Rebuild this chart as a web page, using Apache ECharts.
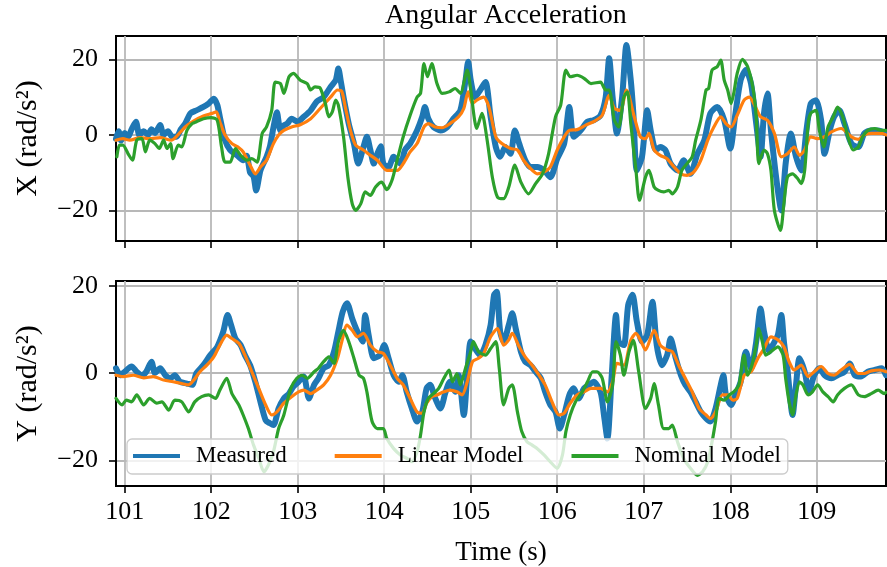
<!DOCTYPE html>
<html>
<head>
<meta charset="utf-8">
<script src="https://cdn.jsdelivr.net/npm/echarts@6/dist/echarts.min.js"></script>
<style>
  html, body { margin: 0; padding: 0; background: #ffffff; }
  #chart { width: 887px; height: 567px; }
</style>
</head>
<body>
<div id="chart"></div>
<script>
// Angular acceleration about X and Y: measured signal vs. linear and nominal models.
// Each series is a list of [time (s), value (rad/s^2)] pairs.

const xTicks = [101, 102, 103, 104, 105, 106, 107, 108, 109];
const yTicks = [-20, 0, 20];
const seriesNames = ['Measured', 'Linear Model', 'Nominal Model'];

const xMeasured = [
  [100.90,-1],[100.93,1],[100.96,-1.5],[101.00,0.5],[101.04,-0.5],[101.08,1.5],[101.13,3.5],[101.17,0],
  [101.22,1],[101.27,0],[101.31,1.5],[101.35,0.5],[101.41,2.6],[101.45,0],[101.50,1],[101.55,-0.5],
  [101.60,-0.5],[101.65,1.5],[101.70,3],[101.76,5.7],[101.83,6.5],[101.91,7.4],[101.97,8.3],[102.03,9.6],
  [102.07,8],[102.10,4.8],[102.16,-1.4],[102.22,-4],[102.30,-5.4],[102.37,-6.7],[102.41,-5.5],[102.45,-10],
  [102.49,-11],[102.52,-14.7],[102.57,-9.4],[102.64,-5.8],[102.68,-3],[102.72,2],[102.76,6],[102.80,1.2],
  [102.84,2.5],[102.88,3],[102.93,4.3],[103.00,3.5],[103.07,4.8],[103.15,6.5],[103.22,8.8],[103.30,10],
  [103.38,12.7],[103.44,14.5],[103.47,17.6],[103.50,14],[103.53,10],[103.59,3],[103.65,-2.3],[103.70,-7.6],
  [103.76,-3.2],[103.80,-0.5],[103.84,-4],[103.88,-7.6],[103.92,-5],[103.96,-3],[103.99,-7.6],[104.05,-8.5],
  [104.11,-5.8],[104.19,-7.6],[104.24,-4],[104.30,-2.3],[104.38,1.2],[104.44,4.8],[104.47,7.4],[104.51,4.3],
  [104.57,2.1],[104.65,1.2],[104.73,2.1],[104.80,4.3],[104.88,6.5],[104.94,14.5],[104.97,19.4],[105.00,14.5],
  [105.05,10],[105.11,11.9],[105.17,14],[105.23,4.8],[105.29,-3.2],[105.34,-5.8],[105.40,-3.2],[105.46,-5],
  [105.51,1.2],[105.56,-2.3],[105.63,-6.7],[105.69,-8.5],[105.77,-8.5],[105.85,-9.4],[105.92,-11.2],[106.00,-6.3],
  [106.08,-2.3],[106.14,7.4],[106.19,-0.5],[106.27,1.2],[106.35,3.5],[106.42,3.9],[106.50,5.2],[106.56,10],
  [106.60,20.3],[106.64,10],[106.69,0.4],[106.75,10],[106.80,23.8],[106.85,14.5],[106.88,5.7],[106.92,-9.4],
  [106.98,-5.8],[107.04,6.5],[107.08,1.2],[107.14,-4],[107.19,-3.2],[107.25,-4],[107.31,-7.6],[107.39,-9.4],
  [107.46,-6.7],[107.54,-10.3],[107.62,-5],[107.70,-1.4],[107.77,5.7],[107.85,7.4],[107.93,3.9],[108.00,-3.6],
  [108.06,5.7],[108.12,14.5],[108.18,17.2],[108.24,13.6],[108.30,3],[108.35,-5.8],[108.39,5.7],[108.43,11],
  [108.47,1.2],[108.53,-11.2],[108.59,-20],[108.64,-7.6],[108.70,0.4],[108.76,-5.8],[108.82,-9.4],[108.88,1.2],
  [108.93,8.3],[108.99,9.2],[109.05,3.9],[109.09,-5],[109.15,1.2],[109.20,4.8],[109.26,6.5],[109.32,3],
  [109.40,-2.3],[109.48,-3.2],[109.55,0.4],[109.63,1.2],[109.71,1.2],[109.80,0.4]
];

const xLinear = [
  [100.90,-1.4],[100.98,-1],[101.06,-1.4],[101.18,-0.7],[101.29,-1],[101.41,-0.7],[101.54,-1.4],[101.60,-0.4],
  [101.70,2.1],[101.80,3.7],[101.91,5],[102.01,5.7],[102.06,6.1],[102.10,3.5],[102.16,0],[102.24,-2.3],
  [102.32,-3.4],[102.37,-4.5],[102.45,-8],[102.51,-10.3],[102.57,-8.5],[102.64,-6.7],[102.72,-2.3],[102.78,0],
  [102.84,1.2],[102.93,2.1],[103.03,2.7],[103.15,4.3],[103.26,7],[103.38,10],[103.46,11.9],[103.51,11.5],
  [103.55,7.4],[103.61,1.2],[103.67,-2.7],[103.76,-4],[103.84,-5.4],[103.92,-6.7],[104.03,-9.4],[104.15,-9.4],
  [104.22,-7.6],[104.30,-4.5],[104.38,-2.3],[104.46,2.1],[104.51,3],[104.59,2.1],[104.67,1.9],[104.76,3],
  [104.86,4.8],[104.92,7],[104.97,11.4],[105.02,8.3],[105.07,9.2],[105.15,10],[105.21,7.4],[105.29,-0.5],
  [105.36,-2.3],[105.46,-3.6],[105.54,-4],[105.61,-6.7],[105.69,-8.9],[105.77,-10.3],[105.85,-9.8],[105.92,-8.5],
  [106.00,-4],[106.08,-0.5],[106.14,1.2],[106.23,1.4],[106.33,2.6],[106.42,3.5],[106.52,5.2],[106.60,10.5],
  [106.66,7],[106.73,6.5],[106.80,11.9],[106.89,4.8],[106.96,-0.5],[107.02,-1],[107.06,0.4],[107.12,-4],
  [107.19,-5.4],[107.27,-6.3],[107.35,-8.5],[107.43,-10.3],[107.50,-10.7],[107.58,-9.8],[107.66,-6.7],[107.74,-1.4],
  [107.81,2.1],[107.89,4.8],[107.95,3],[108.01,2.1],[108.08,5.2],[108.16,9.2],[108.22,10],[108.28,7.9],
  [108.35,4.8],[108.43,3.9],[108.51,0.4],[108.59,-5.8],[108.66,-5],[108.74,-3.2],[108.80,-5.4],[108.86,-4],
  [108.93,-0.5],[109.01,-1],[109.09,-0.5],[109.17,0.8],[109.28,1.7],[109.40,-0.5],[109.48,-1.2],[109.55,0],
  [109.63,0.4],[109.75,0.4],[109.80,0]
];

const xNominal = [
  [100.91,-5.8],[100.94,-2.7],[100.98,-2.7],[101.04,-5],[101.09,-6.7],[101.14,-1.4],[101.20,-1],[101.24,-4.5],
  [101.29,-1.4],[101.35,-2.3],[101.40,-3.6],[101.45,-1.4],[101.49,-3.6],[101.53,-2.3],[101.56,-6.3],[101.62,-2.7],
  [101.66,-3.2],[101.72,1.2],[101.78,3],[101.83,3.5],[101.91,4.3],[102.00,4.6],[102.07,3.9],[102.12,-3.2],
  [102.16,-7.2],[102.22,-7.2],[102.28,-3.6],[102.34,-5.4],[102.41,-6.7],[102.47,-6.3],[102.53,-7.2],[102.59,0.4],
  [102.64,2.1],[102.70,6.5],[102.74,14],[102.80,13.6],[102.84,11],[102.90,15.4],[102.95,16.3],[103.03,14.5],
  [103.11,13.6],[103.15,11.9],[103.20,12.7],[103.26,12.4],[103.32,8.3],[103.36,4.8],[103.40,6.1],[103.44,9.2],
  [103.47,7.9],[103.53,-0.5],[103.58,-11.2],[103.63,-18.2],[103.67,-20],[103.73,-18.2],[103.78,-15.1],[103.84,-16],
  [103.90,-13.8],[103.97,-12.5],[104.03,-14.5],[104.09,-12],[104.15,-6.7],[104.22,-0.5],[104.30,5.2],[104.38,10],
  [104.42,11],[104.46,18.9],[104.50,15.4],[104.55,18.9],[104.61,13.6],[104.67,11],[104.75,11.4],[104.82,12.3],
  [104.88,11],[104.96,17.2],[105.00,11.9],[105.07,1.7],[105.13,5.7],[105.19,-1.4],[105.25,-11.2],[105.31,-16.5],
  [105.38,-16.9],[105.44,-13.8],[105.51,-8],[105.58,-12.5],[105.67,-15.6],[105.75,-12.9],[105.83,-10.3],[105.90,-5],
  [105.98,4.8],[106.04,7.9],[106.10,17.2],[106.15,15.4],[106.23,15.8],[106.31,15],[106.39,13.6],[106.50,14],
  [106.56,11.9],[106.60,11.9],[106.66,3.9],[106.71,2.1],[106.77,10],[106.81,11.4],[106.85,3],[106.91,-9.4],
  [106.95,-17.3],[107.02,-11.2],[107.06,-9.4],[107.12,-13.8],[107.17,-14.7],[107.23,-15.1],[107.29,-14.7],[107.33,-15.6],
  [107.39,-13.8],[107.44,-9.4],[107.50,-7.6],[107.56,-5.8],[107.60,-1.4],[107.66,3.9],[107.72,11.9],[107.75,12.3],
  [107.79,17.2],[107.85,18.1],[107.89,19.8],[107.93,14.5],[107.97,11.9],[108.01,8.3],[108.04,11],[108.08,16.3],
  [108.14,20],[108.20,18.1],[108.26,12.7],[108.30,4.8],[108.33,-7.6],[108.39,-4],[108.43,-5],[108.47,-9.4],
  [108.51,-20],[108.58,-25.3],[108.62,-18.2],[108.66,-11.2],[108.72,-10.3],[108.78,-11.6],[108.82,-12.9],[108.86,-9.4],
  [108.90,3],[108.93,5.7],[108.99,6.5],[109.03,1.2],[109.08,-3.2],[109.13,2.1],[109.19,4.8],[109.24,7.4],
  [109.30,4.8],[109.36,-0.5],[109.42,-4],[109.48,-3.2],[109.53,-0.5],[109.59,1.2],[109.67,1.7],[109.75,1.2],
  [109.80,1.2]
];

const yMeasured = [
  [100.90,1.1],[100.95,-0.5],[101.00,0.3],[101.08,1.5],[101.14,0.3],[101.20,-0.5],[101.25,0.3],[101.31,2.6],
  [101.35,0],[101.41,1.1],[101.47,-0.5],[101.53,-1.2],[101.58,-0.5],[101.64,-2],[101.72,-2.4],[101.78,-2.7],
  [101.83,0],[101.91,1.8],[101.99,4.1],[102.07,6],[102.14,9.5],[102.19,13.3],[102.23,11],[102.28,7.9],
  [102.34,6.4],[102.39,4.1],[102.45,1.8],[102.51,-2],[102.57,-6.6],[102.63,-10.8],[102.68,-11.5],[102.72,-11.9],
  [102.78,-8.1],[102.84,-5.8],[102.90,-4.7],[102.95,-3.1],[103.01,-2],[103.07,-0.8],[103.13,-5.8],[103.19,-2.7],
  [103.24,-1.2],[103.30,1.1],[103.36,1.8],[103.42,4.9],[103.47,9.5],[103.52,14],[103.57,16],[103.63,12.5],
  [103.69,9.5],[103.75,7.2],[103.78,13.3],[103.82,8.7],[103.88,3.4],[103.95,4.1],[104.00,6.4],[104.05,3.4],
  [104.11,-0.5],[104.17,-2],[104.21,-0.5],[104.26,-4.3],[104.32,-8.1],[104.38,-11.1],[104.44,-8.9],[104.49,-3.5],
  [104.53,-2.7],[104.59,-5.8],[104.65,-8.1],[104.71,-4.3],[104.76,-2],[104.82,-4.3],[104.86,-0.5],[104.92,-9.6],
  [104.96,-0.5],[105.00,7.2],[105.05,5.6],[105.11,4.1],[105.17,6.4],[105.23,11],[105.27,17.9],[105.30,18.6],
  [105.34,9.5],[105.38,7.2],[105.44,11],[105.48,13.7],[105.52,10.2],[105.58,4.9],[105.63,2.6],[105.69,1.8],
  [105.75,0.3],[105.81,-1.2],[105.86,-4.3],[105.92,-7.3],[105.98,-8.9],[106.03,-12.7],[106.08,-9.6],[106.14,-5],
  [106.19,-3.5],[106.25,-5.8],[106.31,-3.5],[106.37,-2.7],[106.42,-2],[106.50,-4.3],[106.54,-9.6],[106.58,-15],
  [106.63,-0.5],[106.68,13.3],[106.71,7.2],[106.77,6.4],[106.82,15.6],[106.87,17.9],[106.92,11.8],[106.98,7.2],
  [107.04,8.7],[107.10,16.3],[107.15,6.4],[107.21,1.8],[107.27,4.1],[107.31,7.9],[107.37,3.4],[107.43,-0.5],
  [107.48,-2.7],[107.54,-4.3],[107.60,-6.6],[107.66,-8.9],[107.72,-10.4],[107.77,-11.1],[107.83,-8.1],[107.89,-2.7],
  [107.92,-0.5],[107.95,-5],[108.01,-7.3],[108.06,-5],[108.12,-2],[108.18,4.9],[108.24,1.1],[108.30,7.2],
  [108.35,14.8],[108.39,9.5],[108.45,4.9],[108.49,6.4],[108.55,8.7],[108.59,13.3],[108.62,7.2],[108.66,1.1],
  [108.72,-9.6],[108.76,-2.7],[108.80,3.4],[108.86,0.3],[108.91,-4.3],[108.97,-0.5],[109.03,1.1],[109.09,-0.5],
  [109.17,-1.2],[109.24,-0.5],[109.32,0.3],[109.38,2.2],[109.44,-0.5],[109.51,-0.8],[109.59,0.3],[109.67,0.7],
  [109.75,1.1],[109.80,-0.5]
];

const yLinear = [
  [100.90,-0.5],[100.98,-0.8],[101.10,-0.5],[101.22,-1.1],[101.33,-0.8],[101.45,-1.6],[101.56,-2],[101.66,-2.4],
  [101.74,-2.7],[101.80,-1.6],[101.87,0.3],[101.95,1.8],[102.03,3.7],[102.10,6.4],[102.18,8.7],[102.24,7.9],
  [102.32,6.8],[102.39,4.1],[102.47,0.3],[102.55,-3.5],[102.63,-7.3],[102.70,-9.6],[102.76,-8.9],[102.84,-6.9],
  [102.93,-5.4],[103.01,-4.3],[103.07,-3.9],[103.15,-4.7],[103.22,-3.9],[103.30,-2.7],[103.38,-0.5],[103.46,3.4],
  [103.51,7.2],[103.57,11],[103.63,9.8],[103.69,8.3],[103.76,9.1],[103.84,6.4],[103.92,4.9],[103.99,4.5],
  [104.07,1.8],[104.15,-1.2],[104.22,-2.7],[104.30,-5.8],[104.38,-8.9],[104.44,-9.2],[104.49,-6.9],[104.55,-5.4],
  [104.61,-5],[104.69,-4.3],[104.76,-3.9],[104.84,-4.3],[104.90,-5],[104.96,-2],[105.02,2.6],[105.09,3.4],
  [105.15,4.5],[105.23,8.3],[105.31,10.2],[105.38,6.4],[105.44,7.6],[105.48,9.1],[105.56,6],[105.63,3.7],
  [105.71,1.8],[105.79,-0.5],[105.86,-2.7],[105.94,-6.6],[106.02,-9.6],[106.08,-9.2],[106.15,-6.9],[106.23,-5],
  [106.31,-4.3],[106.39,-3.5],[106.50,-3.5],[106.58,-4.3],[106.64,-2],[106.69,2.2],[106.77,1.8],[106.85,7.5],
  [106.91,9.1],[106.97,7.2],[107.02,5.3],[107.12,9.8],[107.19,6.4],[107.27,5.3],[107.33,4.9],[107.41,1.5],
  [107.48,-1.2],[107.56,-4.3],[107.64,-8.1],[107.72,-9.6],[107.77,-10.4],[107.83,-8.9],[107.91,-5],[107.97,-5],
  [108.03,-6.2],[108.08,-5.8],[108.16,-0.5],[108.24,0.3],[108.32,3.4],[108.39,5.6],[108.47,8.3],[108.55,7.6],
  [108.62,6],[108.68,2.6],[108.74,0.7],[108.82,1.8],[108.90,-0.8],[108.97,0.3],[109.05,1.5],[109.13,-0.1],
  [109.20,-0.5],[109.28,0.7],[109.38,2],[109.48,-0.1],[109.55,-0.1],[109.63,0.5],[109.73,0.7],[109.80,0.3]
];

const yNominal = [
  [100.90,-5.8],[100.97,-7.3],[101.02,-6.2],[101.08,-6.6],[101.14,-5],[101.22,-7.3],[101.29,-5.8],[101.37,-6.9],
  [101.43,-6.6],[101.51,-8.5],[101.58,-6.2],[101.66,-6.6],[101.74,-8.9],[101.81,-6.6],[101.89,-5.4],[101.97,-5],
  [102.05,-5.8],[102.10,-3.9],[102.18,-1.2],[102.24,-4.7],[102.32,-7.3],[102.37,-9.6],[102.43,-12.7],[102.49,-16.5],
  [102.55,-19.5],[102.61,-22.6],[102.66,-21.1],[102.72,-18],[102.78,-12.7],[102.84,-9.6],[102.92,-3.5],[102.99,-1.2],
  [103.05,-0.5],[103.11,-1.2],[103.19,0.3],[103.24,1.1],[103.30,2.6],[103.36,3.7],[103.42,2.2],[103.47,7.2],
  [103.53,9.8],[103.59,7.2],[103.65,3.4],[103.71,-0.5],[103.76,-1.2],[103.80,-4.3],[103.86,-11.1],[103.92,-12.7],
  [103.99,-12.7],[104.03,-15],[104.11,-17.3],[104.19,-18.8],[104.26,-19.5],[104.32,-20.3],[104.38,-18],[104.42,-14.2],
  [104.46,-8.9],[104.51,-5.8],[104.57,-4.7],[104.63,-3.5],[104.69,-1.2],[104.75,0.7],[104.79,-2],[104.84,-0.1],
  [104.88,-2.7],[104.94,1.1],[105.00,4.9],[105.03,7.2],[105.09,4.9],[105.17,4.1],[105.23,5.6],[105.29,7.2],
  [105.33,1.1],[105.38,-7.3],[105.44,-3.5],[105.48,-2.7],[105.54,-8.9],[105.59,-13.4],[105.65,-15.7],[105.71,-16.5],
  [105.77,-17.3],[105.85,-18.8],[105.92,-20.3],[106.00,-21.8],[106.06,-18.8],[106.10,-13.4],[106.15,-9.6],[106.21,-6.6],
  [106.29,-4.3],[106.35,-2],[106.41,0.3],[106.46,0.3],[106.52,-1.2],[106.58,-6.6],[106.64,-2.7],[106.68,7.2],
  [106.73,4.1],[106.77,-0.5],[106.83,4.9],[106.88,7.5],[106.94,0.5],[107.02,-8.1],[107.08,-5.8],[107.12,-2.4],
  [107.17,-7.3],[107.23,-12.7],[107.29,-12.7],[107.33,-11.9],[107.39,-15.7],[107.46,-19.5],[107.54,-21.8],[107.62,-23.4],
  [107.68,-22.6],[107.74,-20.3],[107.79,-15.7],[107.83,-11.1],[107.87,-5.8],[107.93,-6.2],[107.99,-5],[108.04,-4.3],
  [108.10,-2.7],[108.16,4.1],[108.20,-0.5],[108.25,1.8],[108.30,6.4],[108.33,10.2],[108.37,7.2],[108.41,4.1],
  [108.47,4.9],[108.55,6],[108.61,4.1],[108.64,-1.2],[108.68,-6.6],[108.72,-9.6],[108.76,-5],[108.80,-2],
  [108.84,-2.7],[108.90,-5],[108.95,-4.3],[109.01,-2.7],[109.07,-4.3],[109.13,-5.4],[109.19,-6.6],[109.24,-5],
  [109.32,-3.5],[109.40,-2.7],[109.48,-5],[109.55,-5.4],[109.63,-4.7],[109.71,-3.9],[109.78,-4.7],[109.80,-4.4]
];

const FONT = 'Liberation Serif';
const colors = ['#1f77b4', '#ff7f0e', '#2ca02c'];
const fmt = v => (v < 0 ? '\u2212' + Math.abs(v) : String(v));

function xAxisFor(gridIndex, withLabels) {
  return {
    type: 'value', gridIndex, min: 100.9, max: 109.8,
    axisLine: { show: true, onZero: false, lineStyle: { color: '#000', width: 2 } },
    axisTick: { show: true, inside: false, length: 7, customValues: xTicks, lineStyle: { color: '#000', width: 1.6 } },
    axisLabel: { show: withLabels, customValues: xTicks, margin: 13, color: '#000', fontFamily: FONT, fontSize: 26, formatter: fmt },
    splitLine: { show: true, lineStyle: { color: '#b8b8b8', width: 1.8 } },
    name: withLabels ? 'Time (s)' : '',
    nameLocation: 'middle', nameGap: 53,
    nameTextStyle: { color: '#000', fontFamily: FONT, fontSize: 27 }
  };
}

function yAxisFor(gridIndex, min, max, label) {
  return {
    type: 'value', gridIndex, min, max,
    axisLine: { show: true, onZero: false, lineStyle: { color: '#000', width: 2 } },
    axisTick: { show: true, inside: false, length: 7, customValues: yTicks, lineStyle: { color: '#000', width: 1.6 } },
    axisLabel: { customValues: yTicks, margin: 18, color: '#000', fontFamily: FONT, fontSize: 26, formatter: fmt },
    splitLine: { show: true, lineStyle: { color: '#b8b8b8', width: 1.8 } },
    name: label, nameLocation: 'middle', nameGap: 73,
    nameTextStyle: { color: '#000', fontFamily: FONT, fontSize: 30 }
  };
}

function lineSeries(name, data, color, width, idx) {
  return {
    name, type: 'line', data, xAxisIndex: idx, yAxisIndex: idx,
    showSymbol: false, symbol: 'none', smooth: 0.25,
    lineStyle: { color, width, join: 'round', cap: 'round' },
    itemStyle: { color },
    emphasis: { disabled: true }
  };
}

const gridBase = {
  left: 116, right: 1, height: 205, show: true, containLabel: false, outerBoundsMode: 'none',
  borderColor: '#000', borderWidth: 2, backgroundColor: 'transparent'
};

const chart = echarts.init(document.getElementById('chart'), null, { renderer: 'canvas' });
chart.setOption({
  animation: false,
  backgroundColor: '#ffffff',
  title: {
    text: 'Angular Acceleration', left: 380, top: -3,
    textStyle: { color: '#000', fontFamily: FONT, fontSize: 28, fontWeight: 'normal' }
  },
  legend: {
    data: seriesNames, left: 127, top: 439, orient: 'horizontal',
    icon: 'rect', itemWidth: 47, itemHeight: 4, itemGap: 48,
    padding: [3, 7, 4, 6],
    backgroundColor: 'rgba(255,255,255,0.8)', borderColor: '#cccccc', borderWidth: 1.3, borderRadius: 5,
    textStyle: { color: '#000', fontFamily: FONT, fontSize: 23, lineHeight: 28, padding: [0, 0, 0, 11] }
  },
  grid: [
    Object.assign({ top: 36 }, gridBase),
    Object.assign({ top: 281 }, gridBase)
  ],
  xAxis: [xAxisFor(0, false), xAxisFor(1, true)],
  yAxis: [
    yAxisFor(0, -28.1, 26.2, 'X (rad/s\u00B2)'),
    yAxisFor(1, -25.85, 21.07, 'Y (rad/s\u00B2)')
  ],
  series: [
    lineSeries(seriesNames[0], xMeasured, colors[0], 6, 0),
    lineSeries(seriesNames[1], xLinear, colors[1], 3.2, 0),
    lineSeries(seriesNames[2], xNominal, colors[2], 3.2, 0),
    lineSeries(seriesNames[0], yMeasured, colors[0], 6, 1),
    lineSeries(seriesNames[1], yLinear, colors[1], 3.2, 1),
    lineSeries(seriesNames[2], yNominal, colors[2], 3.2, 1)
  ]
});
</script>
</body>
</html>
